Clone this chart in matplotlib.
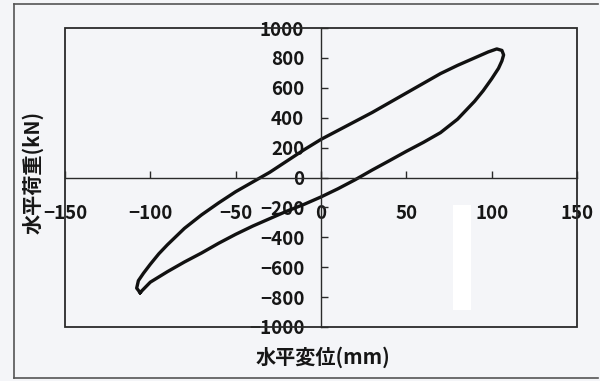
import matplotlib
matplotlib.use("Agg")
import matplotlib.pyplot as plt
from matplotlib.patches import Rectangle
from matplotlib.lines import Line2D

plt.rcParams['font.family'] = ['Noto Sans CJK JP', 'DejaVu Sans']

# Hysteresis loop: horizontal displacement (mm) vs horizontal load (kN)
disp = [-106, -108, -107, -104, -100, -95, -90, -80, -70, -60, -50, -40, -30,
        -20, -10, 0, 10, 20, 30, 40, 50, 60, 70, 80, 90, 98, 103, 106, 107,
        106, 104, 100, 95, 90, 80, 70, 60, 50, 40, 30, 20, 10, 0, -10, -20,
        -30, -40, -50, -60, -70, -80, -90, -100, -106]
load = [-770, -740, -690, -640, -580, -510, -450, -340, -250, -170, -95, -30,
        35, 110, 185, 255, 315, 375, 435, 500, 565, 630, 695, 750, 800, 840,
        860, 850, 820, 780, 730, 660, 580, 510, 390, 300, 235, 175, 112, 50,
        -15, -75, -130, -180, -225, -275, -325, -380, -440, -505, -565, -630,
        -700, -770]

x_ticks = [-150, -100, -50, 0, 50, 100, 150]
y_ticks = [-1000, -800, -600, -400, -200, 0, 200, 400, 600, 800, 1000]
x_label = "水平変位(mm)"
y_label = "水平荷重(kN)"

bg = "#f4f5f8"
edge = "#2a2a2a"
ink = "#161616"

fig = plt.figure(figsize=(6.0, 3.81), dpi=100, facecolor=bg)
ax = fig.add_axes([65 / 600, 1 - 327 / 381, 512 / 600, 299 / 381])
ax.set_facecolor(bg)

ax.plot(disp, load, color="#111111", lw=2.4, solid_joinstyle="round")

ax.set_xlim(-150, 150)
ax.set_ylim(-1000, 1000)
ax.set_xticks(x_ticks)
ax.set_yticks(y_ticks)

# axes crossing at the origin
for side in ("left", "bottom"):
    ax.spines[side].set_position(("data", 0))
    ax.spines[side].set_color(edge)
    ax.spines[side].set_linewidth(1.0)
for side in ("top", "right"):
    ax.spines[side].set_visible(False)

# plot-area border
ax.add_patch(Rectangle((0, 0), 1, 1, transform=ax.transAxes, fill=False,
                       ec=edge, lw=1.3, clip_on=False, zorder=5))

ax.tick_params(axis="x", direction="in", length=5, width=1.0, color=edge,
               pad=19, labelsize=13.5, labelcolor=ink)
ax.tick_params(axis="y", direction="in", length=5, width=1.0, color=edge,
               pad=12, labelsize=13.5, labelcolor=ink)
for lab in ax.get_xticklabels() + ax.get_yticklabels():
    lab.set_fontweight("bold")

fig.text(323 / 600, 1 - 357 / 381, x_label, ha="center", va="center",
         fontsize=14.5, fontweight="bold", color=ink)
fig.text(33 / 600, 1 - 172 / 381, y_label, ha="center", va="center",
         rotation=90, fontsize=14.5, fontweight="bold", color=ink)

# outer frame of the chart
for xs, ys in (([14, 14], [4, 378]), ([14, 598], [4, 4]), ([14, 598], [378, 378])):
    fig.add_artist(Line2D([x / 600 for x in xs], [1 - y / 381 for y in ys],
                          color="#555555", lw=1.2))

# correction patch on the sheet
fig.add_artist(Rectangle((453 / 600, 1 - 310 / 381), 18 / 600, 105 / 381,
                         transform=fig.transFigure, fc="white", ec="none"))

fig.savefig("out.png", dpi=100, facecolor=bg)
